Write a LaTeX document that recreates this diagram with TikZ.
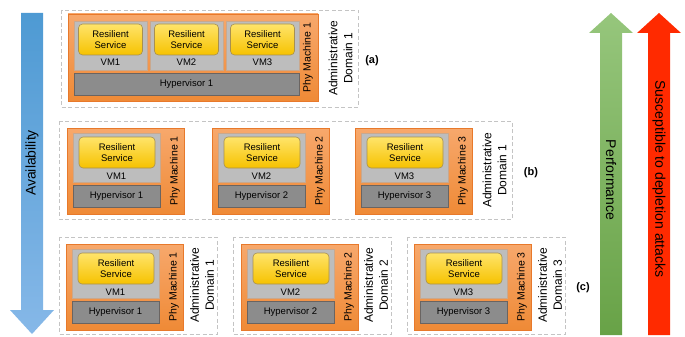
\documentclass[tikz,border=0pt]{standalone}
\usepackage{fontspec}
\setmainfont{Liberation Sans}
\usetikzlibrary{calc}
\definecolor{pmtop}{HTML}{F7A86C}
\definecolor{pmbot}{HTML}{EF8A36}
\definecolor{pmline}{HTML}{E8792B}
\definecolor{vmfill}{HTML}{BDBDBD}
\definecolor{vmline}{HTML}{C9A88E}
\definecolor{hypfill}{HTML}{8C8C8C}
\definecolor{hypline}{HTML}{6A6461}
\definecolor{svctop}{HTML}{FFE46A}
\definecolor{svcbot}{HTML}{F6C200}
\definecolor{svcline}{HTML}{A89050}
\definecolor{domline}{HTML}{C4C4C4}
\definecolor{avtop}{HTML}{4E9AD3}
\definecolor{avbot}{HTML}{86B8E8}
\definecolor{pftop}{HTML}{96C67C}
\definecolor{pfbot}{HTML}{68A247}
\definecolor{depred}{HTML}{FF2A00}
\begin{document}
\begin{tikzpicture}[x=1pt,y=-1pt,
    dom/.style={draw=domline,line width=0.9pt,dash pattern=on 4pt off 2.5pt},
    pm/.style={draw=pmline,line width=0.8pt,top color=pmtop,bottom color=pmbot},
    vm/.style={draw=vmline,line width=0.6pt,fill=vmfill},
    svc/.style={draw=svcline,line width=0.6pt,top color=svctop,bottom color=svcbot,
      rounded corners=4pt,minimum width=76pt,minimum height=31pt,inner sep=0pt,
      align=center,font=\fontsize{9.5}{11.5}\selectfont},
    hyp/.style={draw=hypline,line width=0.8pt,fill=hypfill,minimum width=87pt,
      minimum height=22pt,inner sep=0pt,font=\fontsize{9.5}{11}\selectfont},
    txt/.style={inner sep=0pt,font=\fontsize{9.5}{11}\selectfont},
    pmtxt/.style={inner sep=0pt,rotate=90,font=\fontsize{10.5}{12}\selectfont},
    domtxt/.style={inner sep=0pt,rotate=90,align=center,font=\fontsize{12}{15}\selectfont},
    tag/.style={inner sep=0pt,font=\fontsize{11}{13}\selectfont\bfseries},
    bigtxt/.style={inner sep=0pt,font=\fontsize{14}{16}\selectfont}]
  \useasboundingbox (0,0) rectangle (685,337);
  % side arrows
  \shade[top color=avtop,bottom color=avbot] (21,13)--(43,13)--(43,310)--(54,310)--(32,334)--(10,310)--(21,310)--cycle;
  \shade[top color=pftop,bottom color=pfbot] (600,335)--(600,33)--(589,33)--(611,13)--(633,33)--(622,33)--(622,335)--cycle;
  \fill[depred] (648,335)--(648,33)--(637,33)--(659,13)--(681,33)--(670,33)--(670,335)--cycle;
  \node[bigtxt,rotate=90] (avail) at (32,163) {Availability};
  \node[bigtxt,rotate=-90] (perf) at (611,180) {Performance};
  \node[bigtxt,rotate=-90] (depl) at (659,179) {Susceptible to depletion attacks};
  % (a) one machine
  \draw[dom] (61,10) rectangle (358,107);
  \draw[pm] (68,14) rectangle (318,101);
  \foreach \X/\n in {74/1,150/2,226/3}{
    \draw[vm] (\X,21) rectangle ++(73,49);
    \node[svc,minimum width=64pt] (svca\n) at (\X+36.5,39.5) {Resilient\\Service};
    \node[txt] (vma\n) at (\X+36.5,62) {VM\n};
  }
  \node[hyp,minimum width=225pt] (hypa) at (186.5,84) {Hypervisor 1};
  \node[pmtxt] (pma) at (308,57.5) {Phy Machine 1};
  \node[domtxt] (doma) at (340.5,58) {Administrative\\Domain 1};
  \node[tag] (taga) at (372,61) {(a)};
  % (b) and (c) machines
  \draw[dom] (59,121) rectangle (512,219);
  \node[domtxt] (domb) at (494.5,170) {Administrative\\Domain 1};
  \node[tag] (tagb) at (531,173) {(b)};
  \foreach \D/\n in {59/1,233/2,407/3}{
    \draw[dom] (\D,237) rectangle ++(158,97);
    \node[domtxt] (domc\n) at (\D+143,285) {Administrative\\Domain \n};
  }
  \node[tag] (tagc) at (583,288) {(c)};
  \foreach \X/\Y/\n/\r in {67/128/1/b,212/128/2/b,355/128/3/b,66/244/1/c,241/244/2/c,414/244/3/c}{
    \draw[pm] (\X,\Y) rectangle ++(117,86);
    \draw[vm] (\X+6,\Y+5) rectangle ++(87,49);
    \node[svc] (svc\r\n) at (\X+50,\Y+24.5) {Resilient\\Service};
    \node[txt] (vm\r\n) at (\X+49.5,\Y+48.5) {VM\n};
    \node[hyp] (hyp\r\n) at (\X+49.5,\Y+68.5) {Hypervisor \n};
    \node[pmtxt] (pm\r\n) at (\X+108,\Y+43) {Phy Machine \n};
  }
\end{tikzpicture}
\end{document}
